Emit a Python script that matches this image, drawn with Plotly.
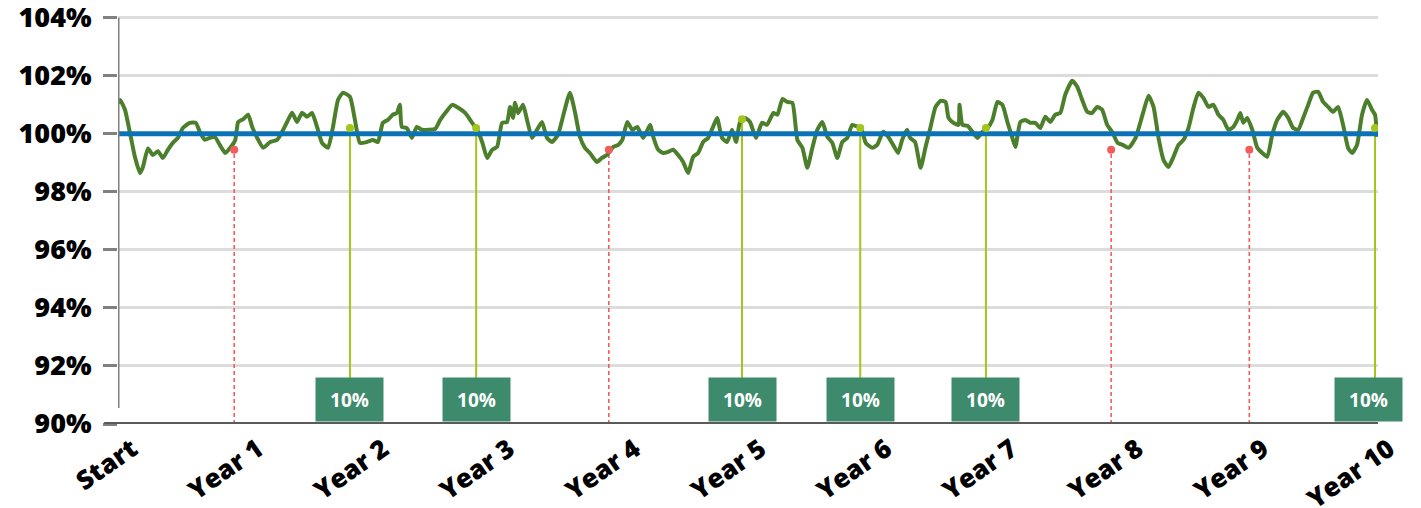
import plotly.graph_objects as go

# Trading days (252 per year) and portfolio value in % of target
days = [0, 4, 14, 24, 34, 44, 50, 60, 70, 80, 90, 100, 110, 120, 130, 144, 156, 164, 174, 184,
        194, 204, 215, 225, 235, 241, 251, 261, 269, 279, 291, 305, 319, 329, 339, 349, 359, 369, 379, 389,
        399, 409, 421, 431, 441, 451, 465, 475, 485, 499, 511, 521, 531, 541, 551, 559, 565, 569, 579, 589,
        599, 609, 622, 636, 646, 658, 670, 682, 696, 710, 720, 730, 740, 750, 760, 770, 780, 786, 792, 796,
        802, 812, 820, 830, 840, 850, 860, 870, 882, 892, 906, 916, 926, 936, 946, 960, 970, 980, 993, 1003,
        1011, 1021, 1031, 1041, 1053, 1067, 1073, 1083, 1093, 1103, 1113, 1123, 1133, 1143, 1153, 1163, 1173, 1183, 1193, 1201,
        1211, 1221, 1231, 1239, 1247, 1257, 1267, 1279, 1291, 1301, 1314, 1322, 1332, 1342, 1352, 1362, 1372, 1382, 1392, 1402,
        1412, 1422, 1432, 1442, 1452, 1462, 1472, 1484, 1490, 1499, 1512, 1522, 1534, 1544, 1554, 1564, 1572, 1582, 1588, 1598,
        1609, 1619, 1629, 1639, 1649, 1659, 1665, 1675, 1685, 1687, 1693, 1703, 1713, 1723, 1733, 1743, 1753, 1763, 1773, 1783,
        1793, 1799, 1809, 1819, 1829, 1839, 1849, 1859, 1869, 1879, 1889, 1899, 1913, 1923, 1933, 1943, 1953, 1963, 1973, 1983,
        1993, 2004, 2014, 2026, 2040, 2054, 2066, 2076, 2086, 2096, 2106, 2116, 2126, 2136, 2146, 2156, 2166, 2176, 2186, 2196,
        2206, 2216, 2226, 2236, 2244, 2250, 2256, 2264, 2274, 2284, 2294, 2304, 2314, 2324, 2336, 2346, 2356, 2366, 2376, 2386,
        2396, 2406, 2416, 2426, 2436, 2446, 2456, 2466, 2474, 2484, 2494, 2504, 2514, 2520, 2524]
values = [101.05, 101.17, 100.83, 100.03, 99.2, 98.65, 98.86, 99.5, 99.27, 99.4, 99.17, 99.45, 99.69, 99.86, 100.2, 100.38, 100.38, 100.07, 99.8, 99.86,
          99.9, 99.62, 99.34, 99.52, 99.79, 100.41, 100.51, 100.66, 100.24, 99.86, 99.52, 99.72, 99.79, 100.07, 100.41, 100.73, 100.41, 100.73, 100.59, 100.72,
          100.24, 99.69, 99.52, 100.24, 101.17, 101.42, 101.28, 100.48, 99.69, 99.72, 99.79, 99.72, 100.38, 100.48, 100.66, 100.72, 101.0, 100.24, 100.2, 99.86,
          100.24, 100.14, 100.14, 100.17, 100.48, 100.76, 101.0, 100.9, 100.72, 100.38, 100.14, 99.72, 99.17, 99.45, 99.55, 100.38, 100.41, 100.93, 100.55, 101.07,
          100.72, 101.0, 100.48, 99.86, 100.14, 100.41, 99.86, 99.72, 99.97, 100.59, 101.42, 100.76, 99.9, 99.52, 99.34, 99.03, 99.17, 99.27, 99.55, 99.62,
          99.79, 100.41, 100.14, 100.24, 99.86, 100.31, 99.9, 99.45, 99.34, 99.38, 99.45, 99.27, 99.03, 98.65, 99.21, 99.34, 99.72, 99.86, 100.24, 100.55,
          99.86, 99.72, 100.14, 99.72, 100.41, 100.55, 100.41, 99.86, 100.38, 100.31, 100.72, 100.66, 101.2, 101.1, 101.07, 99.79, 99.52, 98.83, 99.52, 100.14,
          100.41, 99.9, 99.69, 99.17, 99.72, 99.86, 100.31, 100.24, 100.2, 99.69, 99.52, 99.62, 100.07, 99.9, 99.62, 99.34, 99.79, 100.14, 99.86, 99.72,
          98.83, 99.55, 100.24, 100.93, 101.14, 101.1, 100.55, 100.38, 100.31, 101.0, 100.31, 100.28, 100.07, 99.86, 100.07, 100.2, 100.48, 101.1, 101.0, 100.41,
          99.86, 99.55, 100.41, 100.48, 100.38, 100.38, 100.2, 100.59, 100.41, 100.66, 100.72, 101.35, 101.83, 101.62, 101.17, 100.76, 100.72, 100.93, 100.83, 100.31,
          100.07, 99.69, 99.62, 99.52, 99.86, 100.66, 101.31, 100.93, 99.86, 99.1, 98.86, 99.21, 99.62, 99.79, 100.2, 100.9, 101.42, 101.24, 100.93, 101.0,
          100.66, 100.48, 100.14, 100.24, 100.48, 100.72, 100.38, 100.55, 100.14, 99.52, 99.34, 99.21, 99.97, 100.48, 100.76, 100.55, 100.2, 100.14, 100.55, 101.0,
          101.42, 101.45, 101.1, 100.93, 100.76, 100.93, 100.31, 99.52, 99.34, 99.62, 100.66, 101.17, 100.83, 100.66, 99.9]

target = 100.0

# Rebalancing events: under-target (red) and over-target with 10% take (green)
under_days = [233, 984, 1991, 2268]
under_values = [99.45, 99.45, 99.45, 99.45]
over_days = [465, 718, 1251, 1488, 1740, 2520]
over_values = [100.2, 100.2, 100.5, 100.2, 100.2, 100.2]
over_labels = ["10%", "10%", "10%", "10%", "10%", "10%"]

tick_days = [0, 252, 504, 756, 1008, 1260, 1512, 1764, 2016, 2268, 2520]
tick_text = ["Start", "Year 1", "Year 2", "Year 3", "Year 4", "Year 5",
             "Year 6", "Year 7", "Year 8", "Year 9", "Year 10"]
y_ticks = [90, 92, 94, 96, 98, 100, 102, 104]
y_text = ["90%", "92%", "94%", "96%", "98%", "100%", "102%", "104%"]

FONT = "Open Sans"
GREEN = "#4c7f2b"
BLUE = "#0b73b5"
RED = "#f25c5c"
LIME = "#a2c61c"
BOX = "#3d8a6c"
X_MAX = 2526
BOX_TOP = 91.57
BOX_BOTTOM = 90.08

fig = go.Figure()

# red dashed drop lines
for d, v in zip(under_days, under_values):
    fig.add_trace(go.Scatter(x=[d, d], y=[90, v], mode="lines",
                             line=dict(color=RED, width=1.6, dash="4px,3px"),
                             hoverinfo="skip", showlegend=False))
# lime lines to boxes
for d, v in zip(over_days, over_values):
    fig.add_trace(go.Scatter(x=[d, d], y=[BOX_TOP, v], mode="lines",
                             line=dict(color=LIME, width=2),
                             hoverinfo="skip", showlegend=False))

fig.add_trace(go.Scatter(x=days, y=values, mode="lines",
                         line=dict(color=GREEN, width=4, shape="spline", smoothing=0.5),
                         showlegend=False))
fig.add_trace(go.Scatter(x=[0, X_MAX], y=[target, target], mode="lines",
                         line=dict(color=BLUE, width=5), showlegend=False))

fig.add_trace(go.Scatter(x=under_days, y=under_values, mode="markers",
                         marker=dict(color=RED, size=8), showlegend=False))
fig.add_trace(go.Scatter(x=over_days, y=over_values, mode="markers",
                         marker=dict(color=LIME, size=8), showlegend=False))

# boxes
for i, (d, lab) in enumerate(zip(over_days, over_labels)):
    xs = -7 if d >= X_MAX - 10 else 0
    fig.add_annotation(x=d, y=BOX_BOTTOM, yanchor="bottom", xanchor="center",
                       text=lab, showarrow=False, xshift=xs,
                       bgcolor=BOX, width=61, height=37, borderpad=3,
                       font=dict(family=FONT, size=19, color="white", weight="bold"))

# y axis line (stops short of bottom)
fig.add_shape(type="line", xref="x", yref="y", x0=0, x1=0, y0=90.55, y1=104,
              line=dict(color="#808080", width=3))
# bottom axis line
fig.add_shape(type="line", xref="paper", yref="y", x0=-0.011, x1=1, y0=90, y1=90,
              line=dict(color="#5a5a5a", width=4))

fig.update_layout(
    width=1413, height=500,
    margin=dict(l=110, r=43, t=4, b=84),
    plot_bgcolor="white", paper_bgcolor="white",
    xaxis=dict(range=[0, X_MAX], tickvals=tick_days, ticktext=tick_text,
               tickangle=-35, showgrid=False, zeroline=False, showline=False,
               automargin=False, ticklabelshift=14, ticklabelstandoff=4,
               ticklabeloverflow="allow",
               ticks="", tickfont=dict(family=FONT, size=26, color="black", weight=800)),
    yaxis=dict(range=[90, 104.2], tickvals=y_ticks, ticktext=y_text,
               showgrid=True, gridcolor="#dcdcdc", gridwidth=3, zeroline=False,
               showline=False, ticks="outside", ticklen=14, tickwidth=3,
               tickcolor="#808080", automargin=False, ticklabelstandoff=6,
               ticklabeloverflow="allow",
               tickfont=dict(family=FONT, size=27, color="black", weight=800)),
)

fig.write_html("out.html")
